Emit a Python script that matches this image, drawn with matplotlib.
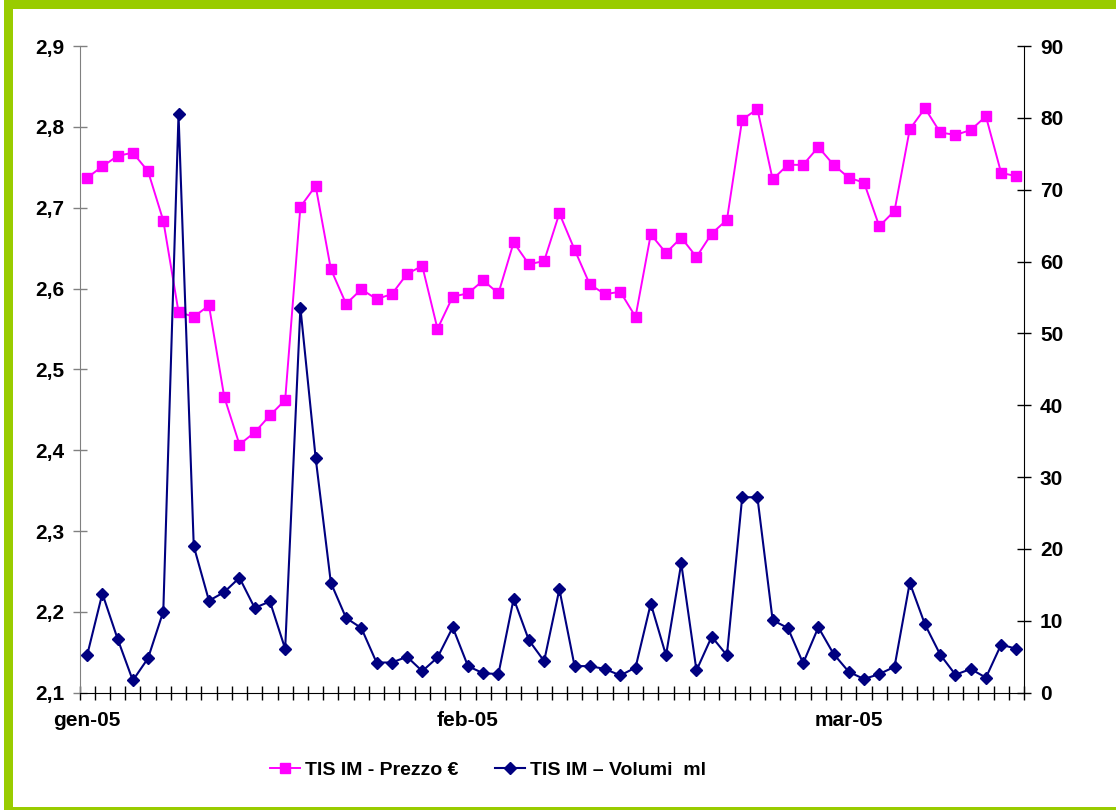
import matplotlib
matplotlib.use("Agg")
import matplotlib.pyplot as plt
from matplotlib.patches import Rectangle
from matplotlib.ticker import FuncFormatter

plt.rcParams['font.family'] = ['Liberation Sans', 'DejaVu Sans']

# TIS IM - prezzo (left axis) and volumi (right axis), one value per trading day
prezzo = [2.737, 2.751, 2.764, 2.768, 2.745, 2.684, 2.571, 2.565, 2.579, 2.466,
          2.407, 2.422, 2.443, 2.462, 2.701, 2.727, 2.624, 2.581, 2.599, 2.587,
          2.593, 2.618, 2.628, 2.550, 2.590, 2.594, 2.610, 2.594, 2.657, 2.630,
          2.634, 2.693, 2.648, 2.605, 2.593, 2.596, 2.565, 2.667, 2.644, 2.663,
          2.639, 2.668, 2.685, 2.809, 2.822, 2.735, 2.753, 2.753, 2.775, 2.753,
          2.737, 2.731, 2.677, 2.696, 2.797, 2.823, 2.793, 2.790, 2.796, 2.813,
          2.743, 2.739]
volumi = [5.2, 13.8, 7.5, 1.7, 4.8, 11.3, 80.5, 20.4, 12.8, 14.0,
          16.0, 11.8, 12.7, 6.1, 53.6, 32.7, 15.3, 10.4, 9.0, 4.2,
          4.2, 5.0, 3.0, 4.9, 9.1, 3.7, 2.7, 2.6, 13.1, 7.3,
          4.4, 14.4, 3.7, 3.7, 3.3, 2.4, 3.5, 12.4, 5.2, 18.0,
          3.1, 7.8, 5.2, 27.2, 27.2, 10.1, 9.0, 4.1, 9.1, 5.4,
          2.9, 1.9, 2.6, 3.6, 15.3, 9.5, 5.3, 2.5, 3.3, 2.1,
          6.7, 6.1]
month_pos = [0, 25, 50]
month_labels = ['gen-05', 'feb-05', 'mar-05']

x = list(range(len(prezzo)))
W, H = 1116, 810

fig = plt.figure(figsize=(W / 100, H / 100), dpi=100)
green = '#99CC00'
# green frame: left, top and bottom bands
fig.add_artist(Rectangle((4 / W, 0), 8.7 / W, 1, transform=fig.transFigure,
                         facecolor=green, edgecolor='none'))
fig.add_artist(Rectangle((4 / W, 1 - 9.3 / H), 1, 9.3 / H, transform=fig.transFigure,
                         facecolor=green, edgecolor='none'))
fig.add_artist(Rectangle((4 / W, 0), 1, 3.3 / H, transform=fig.transFigure,
                         facecolor=green, edgecolor='none'))

left, right, top, bottom = 79.5, 1024, 46, 692.7
ax = fig.add_axes([left / W, 1 - bottom / H, (right - left) / W, (bottom - top) / H])
ax2 = ax.twinx()

ax.plot(x, prezzo, color='#FF00FF', lw=1.4, marker='s', ms=7.2,
        label='TIS IM - Prezzo €')
ax2.plot(x, volumi, color='#000080', lw=1.5, marker='D', ms=6,
         label='TIS IM \u2013 Volumi  ml')

ax.set_xlim(-0.5, len(x) - 0.5)
ax.set_ylim(2.1, 2.9)
ax2.set_ylim(0, 90)
ax.set_yticks([2.1 + 0.1 * i for i in range(9)])
ax.yaxis.set_major_formatter(FuncFormatter(lambda v, p: f'{v:.1f}'.replace('.', ',')))
ax2.set_yticks(range(0, 91, 10))

ax.set_xticks([i - 0.5 for i in range(len(x) + 1)])
ax.set_xticklabels([])
ax.set_xticks(month_pos, minor=True)
ax.set_xticklabels(month_labels, minor=True)
ax.tick_params(axis='x', which='major', direction='inout', length=10, width=1, color='black')
ax.tick_params(axis='x', which='minor', length=0, pad=13)
ax.tick_params(axis='y', direction='inout', length=10, width=1, color='#808080', pad=6)
ax2.tick_params(axis='y', direction='inout', length=10, width=1, color='black', pad=6.5)

for a in (ax, ax2):
    a.spines['top'].set_visible(False)
ax.spines['left'].set_color('#808080')
ax2.spines['left'].set_visible(False)
ax2.spines['bottom'].set_visible(False)
ax.spines['right'].set_visible(False)
ax2.spines['right'].set_color('black')

for lab in ax.get_xticklabels(minor=True) + ax.get_yticklabels() + ax2.get_yticklabels():
    lab.set_fontsize(15)
    lab.set_fontweight('bold')

h1, l1 = ax.get_legend_handles_labels()
h2, l2 = ax2.get_legend_handles_labels()
fig.legend(h1 + h2, l1 + l2, loc='center', ncol=2, frameon=False,
           bbox_to_anchor=(488 / W, 1 - 770 / H),
           prop={'size': 14, 'weight': 'bold'},
           handlelength=1.55, handletextpad=0.25, columnspacing=1.9)

fig.savefig('out.png', dpi=100)
